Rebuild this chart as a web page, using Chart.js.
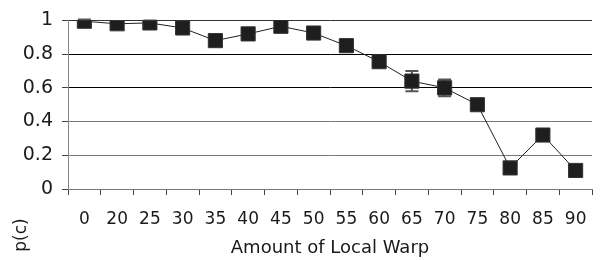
<!DOCTYPE html>
<html>
<head>
<meta charset="utf-8">
<script src="https://cdn.jsdelivr.net/npm/chart.js@4"></script>
<style>
  html, body { margin: 0; padding: 0; background: #fff; }
  #chart { display: block; }
</style>
</head>
<body>
<canvas id="chart" width="603" height="260" style="width:603px;height:260px"></canvas>
<script>
// amount of local warp (x categories)
let warpLevels = ['0', '20', '25', '30', '35', '40', '45', '50', '55', '60', '65', '70', '75', '80', '85', '90'];
// p(c) per warp level
let pCorrect = [0.995, 0.98, 0.985, 0.955, 0.88, 0.92, 0.965, 0.925, 0.85, 0.755, 0.64, 0.60, 0.50, 0.125, 0.32, 0.11];
// error bar half-length
let pError = [0.01, 0.015, 0.015, 0.015, 0.015, 0.015, 0.015, 0.015, 0.02, 0.02, 0.06, 0.05, 0.03, 0.02, 0.02, 0.02];
let yTicks = [0, 0.2, 0.4, 0.6, 0.8, 1];

const FONT = 'DejaVu Sans, Verdana, sans-serif';

// draws error bars behind the square markers
const errorBars = {
    id: 'errorBars',
    beforeDatasetsDraw(chart){
        let ctx = chart.ctx;
        let meta = chart.getDatasetMeta(0);
        let y = chart.scales.y;
        ctx.save();
        ctx.strokeStyle = '#555';
        ctx.lineWidth = 2;
        meta.data.forEach(function(pt, i){
            let top = y.getPixelForValue(pCorrect[i] + pError[i]);
            let bot = y.getPixelForValue(pCorrect[i] - pError[i]);
            let half = 6.5;
            ctx.beginPath();
            ctx.moveTo(pt.x, top); ctx.lineTo(pt.x, bot);
            ctx.moveTo(pt.x - half, top); ctx.lineTo(pt.x + half, top);
            ctx.moveTo(pt.x - half, bot); ctx.lineTo(pt.x + half, bot);
            ctx.stroke();
        });
        ctx.restore();
    }
};

// rotated y title sitting below the axis, like the original
const yTitle = {
    id: 'yTitle',
    afterDraw(chart){
        let ctx = chart.ctx;
        ctx.save();
        ctx.translate(22, 235);
        ctx.rotate(-Math.PI / 2);
        ctx.fillStyle = '#1a1a1a';
        ctx.font = '17px ' + FONT;
        ctx.textAlign = 'center';
        ctx.textBaseline = 'middle';
        ctx.fillText('p(c)', 0, 0);
        ctx.restore();
    }
};

function gridColor(context){
    let v = context.tick ? Math.round(context.tick.value * 10) / 10 : 0;
    if (v === 0.8 || v === 0.6) return '#000';
    if (v === 1) return '#333';
    return '#777';
}

new Chart(document.getElementById('chart').getContext('2d'), {
    type: 'line',
    data: {
        labels: warpLevels,
        datasets: [{
            data: pCorrect,
            borderColor: '#222',
            borderWidth: 1,
            pointStyle: 'rect',
            pointRadius: 10,
            pointHoverRadius: 10,
            pointBackgroundColor: '#1e1e1e',
            pointBorderColor: '#333',
            pointBorderWidth: 1,
            tension: 0
        }]
    },
    options: {
        responsive: false,
        animation: false,
        devicePixelRatio: 1,
        layout: { padding: { top: 20, right: 1, left: 0, bottom: 0 } },
        plugins: {
            legend: { display: false },
            tooltip: { enabled: false }
        },
        scales: {
            x: {
                type: 'category',
                offset: true,
                afterFit: function(scale){ scale.height = 71; },
                grid: {
                    offset: true,
                    drawOnChartArea: false,
                    drawTicks: true,
                    tickLength: 6,
                    tickColor: '#444'
                },
                border: { color: '#777', width: 1 },
                ticks: {
                    autoSkip: false,
                    maxRotation: 0,
                    padding: 14,
                    color: '#1a1a1a',
                    font: { family: FONT, size: 17 }
                },
                title: {
                    display: true,
                    text: 'Amount of Local Warp',
                    color: '#1a1a1a',
                    font: { family: FONT, size: 18 },
                    padding: { top: 0, bottom: 1 }
                }
            },
            y: {
                min: 0,
                max: 1,
                afterFit: function(scale){ scale.width = 68; },
                afterBuildTicks: function(scale){
                    scale.ticks = yTicks.map(function(v){ return { value: v }; });
                },
                grid: {
                    color: gridColor,
                    tickColor: '#444',
                    tickLength: 6,
                    lineWidth: 1
                },
                border: { color: '#888', width: 1 },
                ticks: {
                    padding: 9,
                    color: '#1a1a1a',
                    font: { family: FONT, size: 19 },
                    callback: function(v){ return String(Math.round(v * 10) / 10); }
                }
            }
        }
    },
    plugins: [errorBars, yTitle]
});
</script>
</body>
</html>
